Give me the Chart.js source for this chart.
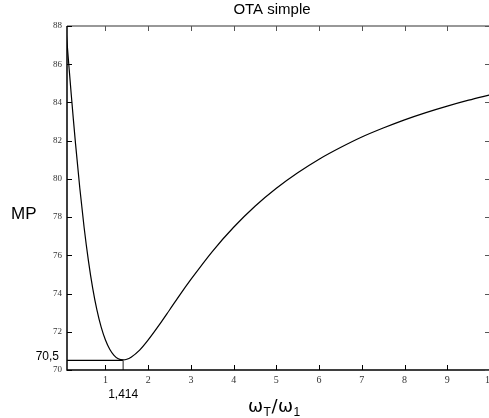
<!DOCTYPE html>
<html>
<head>
<meta charset="utf-8">
<script src="https://cdn.jsdelivr.net/npm/chart.js@4/dist/chart.umd.min.js"></script>
<style>
html,body{margin:0;padding:0;background:#fff;overflow:hidden;width:489px;height:418px;}
#wrap{position:relative;width:500px;height:418px;}
</style>
</head>
<body>
<div id="wrap"><canvas id="c" width="500" height="418"></canvas></div>
<script>
// Data
const xValues = [0.07,0.1,0.15,0.2,0.25,0.3,0.4,0.5,0.6,0.7,0.8,0.9,1.0,1.1,1.2,1.3,1.414,1.5,1.6,1.8,2.0,2.25,2.5,2.75,3,3.5,4,4.5,5,5.5,6,6.5,7,7.5,8,8.5,9,9.5,10];
const mpValues = [88.0,87.15,85.76,84.40,83.09,81.83,79.51,77.47,75.74,74.30,73.14,72.24,71.57,71.09,70.77,70.59,70.53,70.56,70.67,71.04,71.57,72.33,73.14,73.96,74.74,76.20,77.47,78.57,79.51,80.32,81.03,81.64,82.19,82.66,83.09,83.47,83.81,84.12,84.40];
const xTickValues = [1,2,3,4,5,6,7,8,9,10];
const yTickValues = [70,72,74,76,78,80,82,84,86,88];
const markerX = [1.414];
const markerY = [70.5];
const markerXLabel = "1,414";
const markerYLabel = "70,5";
const titleText = "OTA simple";
const yTitle = "MP";

const points = xValues.map((x,i)=>({x:x,y:mpValues[i]}));

const framePlugin = {
  id:'frame',
  afterDraw(chart){
    const ctx = chart.ctx, xs = chart.scales.x, ys = chart.scales.y, a = chart.chartArea;
    ctx.save();
    // marker lines
    const mx = xs.getPixelForValue(markerX[0]), my = ys.getPixelForValue(markerY[0]);
    ctx.strokeStyle = '#000'; ctx.lineWidth = 1.2;
    ctx.beginPath(); ctx.moveTo(a.left, my); ctx.lineTo(mx, my); ctx.stroke();
    ctx.strokeStyle = '#444';
    ctx.beginPath(); ctx.moveTo(mx, my); ctx.lineTo(mx, a.bottom); ctx.stroke();
    // frame
    ctx.lineWidth = 1.5;
    ctx.strokeStyle = '#777';
    ctx.beginPath(); ctx.moveTo(a.left, a.top); ctx.lineTo(a.right, a.top); ctx.lineTo(a.right, a.bottom); ctx.stroke();
    ctx.strokeStyle = '#000';
    ctx.beginPath(); ctx.moveTo(a.left, a.top); ctx.lineTo(a.left, a.bottom); ctx.lineTo(a.right, a.bottom); ctx.stroke();
    // inward ticks
    ctx.lineWidth = 1;
    xTickValues.forEach(v=>{
      const px = Math.round(xs.getPixelForValue(v))+0.5;
      ctx.strokeStyle = '#000';
      ctx.beginPath(); ctx.moveTo(px, a.bottom); ctx.lineTo(px, a.bottom-5); ctx.stroke();
      ctx.strokeStyle = '#555';
      ctx.beginPath(); ctx.moveTo(px, a.top); ctx.lineTo(px, a.top+5); ctx.stroke();
    });
    yTickValues.forEach(v=>{
      const py = Math.round(ys.getPixelForValue(v))+0.5;
      ctx.strokeStyle = '#000';
      ctx.beginPath(); ctx.moveTo(a.left, py); ctx.lineTo(a.left+5, py); ctx.stroke();
      ctx.strokeStyle = '#555';
      ctx.beginPath(); ctx.moveTo(a.right, py); ctx.lineTo(a.right-5, py); ctx.stroke();
    });
    // texts
    ctx.fillStyle = '#000';
    ctx.textBaseline = 'middle';
    ctx.font = '15px "Liberation Sans", Arial, sans-serif';
    ctx.textAlign = 'center';
    ctx.fillText(titleText, 272, 10);
    ctx.font = '17px "Liberation Sans", Arial, sans-serif';
    ctx.textAlign = 'left';
    ctx.fillText(yTitle, 11, 214);
    ctx.font = '12px "Liberation Sans", Arial, sans-serif';
    ctx.textAlign = 'right';
    ctx.fillText(markerYLabel, 59, 357);
    ctx.textAlign = 'center';
    ctx.fillText(markerXLabel, mx, 395);
    // x axis title: omega_T / omega_1
    ctx.textAlign = 'left'; ctx.textBaseline = 'alphabetic';
    let x0 = 248; const base = 412;
    const big = '18px "DejaVu Sans", sans-serif', small = '12px "Liberation Sans", Arial, sans-serif';
    const parts = [['\u03C9',big,0],['T',small,4],['/',big,0],['\u03C9',big,0],['1',small,4]];
    parts.forEach(p=>{ ctx.font = p[1]; ctx.fillText(p[0], x0, base + p[2]); x0 += ctx.measureText(p[0]).width + 0.5; });
    ctx.restore();
  }
};

new Chart(document.getElementById('c'), {
  type:'line',
  data:{datasets:[{data:points,borderColor:'#000',borderWidth:1.2,pointRadius:0,fill:false,cubicInterpolationMode:'monotone'}]},
  options:{
    responsive:false, animation:false,
    layout:{padding:{top:26,right:10,left:0,bottom:0}},
    plugins:{legend:{display:false},title:{display:false},tooltip:{enabled:false}},
    scales:{
      x:{type:'linear',min:0.1,max:10,
        afterBuildTicks:s=>{s.ticks = xTickValues.map(v=>({value:v}));},
        afterFit:s=>{s.height = 48;},
        grid:{display:false,drawTicks:false,tickLength:0},border:{display:false},
        ticks:{padding:4,color:'#333',font:{family:'"Liberation Serif", "Times New Roman", serif',size:10},autoSkip:false,maxRotation:0,callback:v=>String(v)}},
      y:{type:'linear',min:70,max:88,
        afterBuildTicks:s=>{s.ticks = yTickValues.map(v=>({value:v}));},
        afterFit:s=>{s.width = 67;},
        grid:{display:false,drawTicks:false,tickLength:0},border:{display:false},
        ticks:{padding:5,color:'#333',font:{family:'"Liberation Serif", "Times New Roman", serif',size:9},callback:v=>String(v)}}
    }
  },
  plugins:[framePlugin]
});
</script>
</body>
</html>
